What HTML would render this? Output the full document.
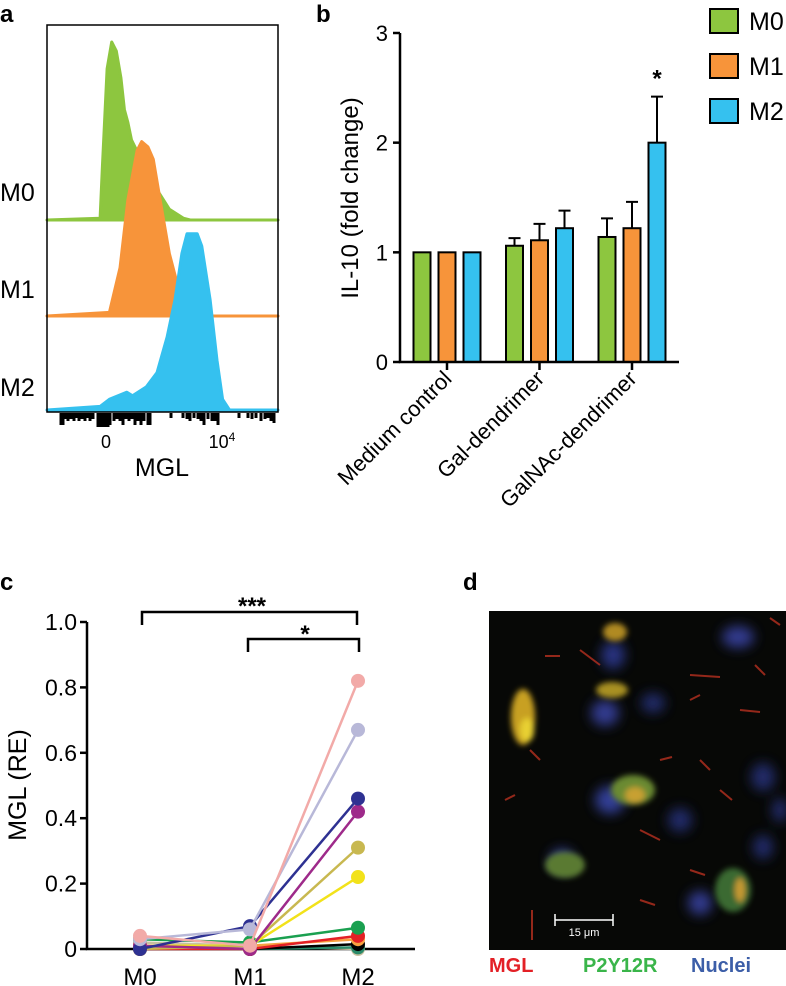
<!DOCTYPE html>
<html><head><meta charset="utf-8"><style>
html,body{margin:0;padding:0;background:#fff;}
svg{display:block;font-family:"Liberation Sans",Arial,sans-serif;}
</style></head><body>
<svg id="fig" width="786" height="986" viewBox="0 0 786 986">
<defs>
<filter id="blur3"><feGaussianBlur stdDeviation="3"/></filter>
<filter id="blur6"><feGaussianBlur stdDeviation="6"/></filter>
</defs>
<!-- Panel a -->
<g>
<text x="0" y="22" font-size="24" font-weight="bold">a</text>
<g id="histos"></g>
<rect x="47" y="25" width="231" height="387" fill="none" stroke="#000" stroke-width="1.5"/>
<g id="aticks"></g>
<text x="0" y="201" font-size="25">M0</text>
<text x="0" y="298" font-size="25">M1</text>
<text x="0" y="396" font-size="25">M2</text>
<text x="106" y="448" font-size="18" text-anchor="middle">0</text>
<text x="222" y="448" font-size="18" text-anchor="middle">10<tspan font-size="12" dy="-7">4</tspan></text>
<text x="162" y="476" font-size="25" text-anchor="middle">MGL</text>
</g>
<!-- Panel b -->
<g>
<text x="316" y="22" font-size="24" font-weight="bold">b</text>
<g id="bchart"></g>
<text transform="translate(358,198) rotate(-90)" font-size="24" text-anchor="middle">IL-10 (fold change)</text>
</g>
<!-- Panel c -->
<g>
<text x="0" y="590" font-size="24" font-weight="bold">c</text>
<g id="cchart"></g>
<text transform="translate(26,785) rotate(-90)" font-size="25" text-anchor="middle">MGL (RE)</text>
</g>
<!-- Panel d -->
<g>
<text x="463" y="590" font-size="24" font-weight="bold">d</text>
<g>
<rect x="489" y="611" width="297" height="339" fill="#070806"/>
<g filter="url(#blur6)" opacity="0.85">
<ellipse cx="738" cy="637" rx="16" ry="11" fill="#3a45a8"/>
<ellipse cx="613" cy="655" rx="12" ry="14" fill="#2e3a95"/>
<ellipse cx="605" cy="713" rx="14" ry="13" fill="#3a45a8"/>
<ellipse cx="653" cy="703" rx="12" ry="10" fill="#28307a"/>
<ellipse cx="610" cy="800" rx="15" ry="14" fill="#3a48b0"/>
<ellipse cx="680" cy="820" rx="12" ry="12" fill="#28307a"/>
<ellipse cx="562" cy="860" rx="12" ry="11" fill="#3a48b0"/>
<ellipse cx="700" cy="903" rx="12" ry="12" fill="#3a45a8"/>
<ellipse cx="763" cy="777" rx="12" ry="14" fill="#28307a"/>
<ellipse cx="763" cy="847" rx="10" ry="12" fill="#28307a"/>
<ellipse cx="780" cy="810" rx="8" ry="12" fill="#28307a"/>
</g>
<g filter="url(#blur3)">
<ellipse cx="523" cy="717" rx="12" ry="28" fill="#c8a020"/>
<ellipse cx="527" cy="730" rx="7" ry="12" fill="#e8d030"/>
<ellipse cx="615" cy="632" rx="12" ry="9" fill="#b08a20"/>
<ellipse cx="612" cy="690" rx="16" ry="8" fill="#a89020"/>
<ellipse cx="633" cy="790" rx="22" ry="15" fill="#6a8a30"/>
<ellipse cx="635" cy="795" rx="10" ry="8" fill="#c8a030"/>
<ellipse cx="565" cy="865" rx="20" ry="13" fill="#5a7a30"/>
<ellipse cx="733" cy="890" rx="18" ry="22" fill="#3a6a30"/>
<ellipse cx="740" cy="890" rx="5" ry="12" fill="#c89a30"/>
</g>
<g stroke="#b83020" stroke-width="2" opacity="0.8">
<line x1="580" y1="650" x2="600" y2="665"/><line x1="690" y1="675" x2="720" y2="677"/>
<line x1="755" y1="665" x2="765" y2="675"/><line x1="690" y1="700" x2="700" y2="695"/>
<line x1="545" y1="656" x2="560" y2="656"/><line x1="770" y1="618" x2="780" y2="625"/>
<line x1="740" y1="710" x2="760" y2="712"/><line x1="640" y1="830" x2="660" y2="840"/>
<line x1="530" y1="750" x2="540" y2="760"/><line x1="700" y1="760" x2="710" y2="770"/>
<line x1="690" y1="870" x2="705" y2="875"/><line x1="532" y1="910" x2="532" y2="940"/>
<line x1="660" y1="760" x2="672" y2="757"/><line x1="720" y1="790" x2="732" y2="800"/>
<line x1="505" y1="800" x2="515" y2="795"/><line x1="640" y1="900" x2="655" y2="905"/>
</g>
<g stroke="#fff" stroke-width="1.5">
<line x1="555" y1="920" x2="613" y2="920"/><line x1="555" y1="914" x2="555" y2="926"/><line x1="613" y1="914" x2="613" y2="926"/>
</g>
<text x="584" y="936" font-size="11" fill="#fff" text-anchor="middle">15 μm</text>
</g>
<text x="489" y="972" font-size="20" font-weight="bold" fill="#e32026">MGL</text>
<text x="583" y="972" font-size="20" font-weight="bold" fill="#3ab54a">P2Y12R</text>
<text x="691" y="972" font-size="20" font-weight="bold" fill="#3c5ea8">Nuclei</text>
</g>
</svg>
<script>
var NS="http://www.w3.org/2000/svg";
function mk(p,tag,at){var e=document.createElementNS(NS,tag);for(var k in at)e.setAttribute(k,at[k]);p.appendChild(e);return e;}

// ---- Panel a: histogram data (MGL channel position %, relative count 0..1)
var histM0X=[0,23,24,26,28,30,32,33.5,35,36.6,40,44,47.6,53,59,62,100];
var histM0Y=[0,0.01,0.3,0.85,1.0,0.95,0.8,0.62,0.55,0.45,0.36,0.25,0.17,0.06,0.01,0,0];
var histM1X=[0,27,31.6,35,39,41,43.7,46,49,53,57,60,63,100];
var histM1Y=[0,0.02,0.27,0.65,0.93,0.98,0.95,0.88,0.65,0.35,0.15,0.03,0,0];
var histM2X=[0,23,27,34.6,37,43,47.6,52,55.4,58.4,60.6,65,67,70.6,73.6,76,79,100];
var histM2Y=[0,0.02,0.06,0.1,0.08,0.13,0.21,0.41,0.62,0.88,0.99,0.99,0.92,0.62,0.28,0.06,0,0];
var histColors=["#8dc63f","#f7943a","#35c1ef"];
var histBase=[220,316,410];
var histHeight=[178,178,178];
(function(){
 var g=document.getElementById('histos');
 var xs=[histM0X,histM1X,histM2X], ys=[histM0Y,histM1Y,histM2Y];
 function ax(v){return 47+v/100*231;}
 var names=['histogram-m0','histogram-m1','histogram-m2'];
 for(var s=0;s<3;s++){
  var d='M'+ax(0)+','+histBase[s];
  for(var i=0;i<xs[s].length;i++) d+=' L'+ax(xs[s][i]).toFixed(1)+','+(histBase[s]-ys[s][i]*histHeight[s]).toFixed(1);
  d+=' L'+ax(100)+','+histBase[s]+'Z';
  var p=mk(g,'path',{d:d,fill:histColors[s],stroke:histColors[s],'stroke-width':3,'stroke-linejoin':'round'});
  
  
 }
 var t=document.getElementById('aticks');
 var tickX=[61,63,66,68,71,74,76,79,82,85,88,90,93,98,100,102,104,106,108,110,114,117,120,123,126,129,132,135,138,141,144,148,150,171,183,187,190,194,198,201,204,208,212,215,218,239,248,252,256,261,265,268,271,274];
 var tickL=[12,12,6,8,6,8,5,8,6,8,5,8,6,14,14,14,14,14,14,12,8,6,8,12,6,8,6,12,8,12,8,12,12,5,5,6,8,5,6,8,12,6,8,8,12,5,5,6,5,8,6,5,8,10];
 for(var i=0;i<tickX.length;i++){var l=mk(t,'line',{x1:tickX[i],y1:413,x2:tickX[i],y2:413+tickL[i],stroke:'#000','stroke-width':3});
  
  }
})();

// ---- Panel b: bar chart
var bCategories=["Medium control","Gal-dendrimer","GalNAc-dendrimer"];
var bSeries=["M0","M1","M2"];
var bM0=[1.0,1.06,1.14];
var bM1=[1.0,1.11,1.22];
var bM2=[1.0,1.22,2.0];
var bErrM0=[0,0.07,0.17];
var bErrM1=[0,0.15,0.24];
var bErrM2=[0,0.16,0.42];
var bTicks=[0,1,2,3];
(function(){
 var g=document.getElementById('bchart');
 var x0=400,y0=362,yTop=33;
 function yS(v){return y0-(v/3)*(y0-yTop);}
 function gx(i){return 447+i*92.5;}
 var vals=[bM0,bM1,bM2], errs=[bErrM0,bErrM1,bErrM2];
 for(var c=0;c<3;c++)for(var s=0;s<3;s++){
  var cx=gx(c)+(s-1)*25, v=vals[s][c], e=errs[s][c];
  if(e>0){var el=mk(g,'path',{d:'M'+cx+','+yS(v)+' V'+yS(v+e)+' M'+(cx-6)+','+yS(v+e)+' H'+(cx+6),stroke:'#000','stroke-width':2,fill:'none'});
   
   }
  var r=mk(g,'rect',{x:cx-8.5,y:yS(v),width:17,height:y0-yS(v),fill:histColors[s],stroke:'#000','stroke-width':2});
  
  
 }
 var ax=mk(g,'path',{d:'M'+x0+','+yTop+' V'+y0+' H679',stroke:'#000','stroke-width':2.5,fill:'none'});
 
 
 for(var i=0;i<bTicks.length;i++){
  var y=yS(bTicks[i]);
  mk(g,'line',{x1:x0-7,y1:y,x2:x0,y2:y,stroke:'#000','stroke-width':2.5});
  var t=mk(g,'text',{x:x0-12,y:y+8,'font-size':22,'text-anchor':'end'});t.textContent=bTicks[i];
  
  
 }
 for(var c=0;c<3;c++){
  mk(g,'line',{x1:gx(c),y1:y0,x2:gx(c),y2:y0+8,stroke:'#000','stroke-width':2.5});
  var t=mk(g,'text',{transform:'translate('+(gx(c)+6)+','+(y0+18)+') rotate(-45)','font-size':22,'text-anchor':'end'});
  t.textContent=bCategories[c];
  
  
 }
 var st=mk(g,'text',{x:gx(2)+25,y:yS(2.42)-10,'font-size':24,'text-anchor':'middle','font-weight':'bold'});st.textContent='*';
 
 
 var ly=[21,66,111];
 for(var s=0;s<3;s++){
  var r=mk(g,'rect',{x:710,y:ly[s]-12,width:28,height:24,fill:histColors[s],stroke:'#000','stroke-width':2});
  
  
  var t=mk(g,'text',{x:749,y:ly[s]+9,'font-size':25});t.textContent=bSeries[s];
  
  
 }
})();

// ---- Panel c: paired line chart
var cCategories=["M0","M1","M2"];
var cTicks=[0,0.2,0.4,0.6,0.8,1.0];
var cTickLabels=["0","0.2","0.4","0.6","0.8","1.0"];
var cColors=["#f2aaa8","#b8b8d8","#2e3192","#9e2a8a","#c8b850","#f2e21a","#1aa050","#e32026","#f7a040","#000000","#2a8a6a","#c8c0a0"];
var cM0=[0.04,0.03,0.0,0.01,0.0,0.01,0.03,0.0,0.01,0.0,0.0,0.02];
var cM1=[0.01,0.06,0.07,0.0,0.01,0.01,0.02,0.0,0.01,0.0,0.0,0.01];
var cM2=[0.82,0.67,0.46,0.42,0.31,0.22,0.065,0.04,0.03,0.015,0.005,0.0];
(function(){
 var g=document.getElementById('cchart');
 var x0=87,y0=949,yTop=622;
 function yS(v){return y0-v*(y0-yTop);}
 var xs=[140,250,358];
 var ax=mk(g,'path',{d:'M'+x0+','+yTop+' V'+y0+' H415',stroke:'#000','stroke-width':2.5,fill:'none'});
 
 
 for(var i=0;i<cTicks.length;i++){
  var y=yS(cTicks[i]);
  mk(g,'line',{x1:x0-7,y1:y,x2:x0,y2:y,stroke:'#000','stroke-width':2.5});
  var t=mk(g,'text',{x:x0-10,y:y+8,'font-size':23,'text-anchor':'end'});t.textContent=cTickLabels[i];
  
  
 }
 for(var i=0;i<3;i++){
  var t=mk(g,'text',{x:xs[i],y:y0+36,'font-size':24,'text-anchor':'middle'});t.textContent=cCategories[i];
  
  
 }
 for(var s=cColors.length-1;s>=0;s--){
  var v=[cM0[s],cM1[s],cM2[s]];
  var p=mk(g,'polyline',{points:xs.map(function(x,i){return x+','+yS(v[i]);}).join(' '),fill:'none',stroke:cColors[s],'stroke-width':2.5});
  
  
  for(var i=0;i<3;i++){
   var c=mk(g,'circle',{cx:xs[i],cy:yS(v[i]),r:7,fill:cColors[s]});
   
   
  }
 }
 var b1=mk(g,'path',{d:'M142,625 V612 H357 V625',stroke:'#000','stroke-width':2.5,fill:'none'});
 
 
 var b2=mk(g,'path',{d:'M248,652 V639 H359 V652',stroke:'#000','stroke-width':2.5,fill:'none'});
 
 
 var s1=mk(g,'text',{x:252,y:614,'font-size':24,'font-weight':'bold','text-anchor':'middle'});s1.textContent='***';
 
 
 var s2=mk(g,'text',{x:305,y:642,'font-size':24,'font-weight':'bold','text-anchor':'middle'});s2.textContent='*';
 
 
})();
</script>
</body></html>
